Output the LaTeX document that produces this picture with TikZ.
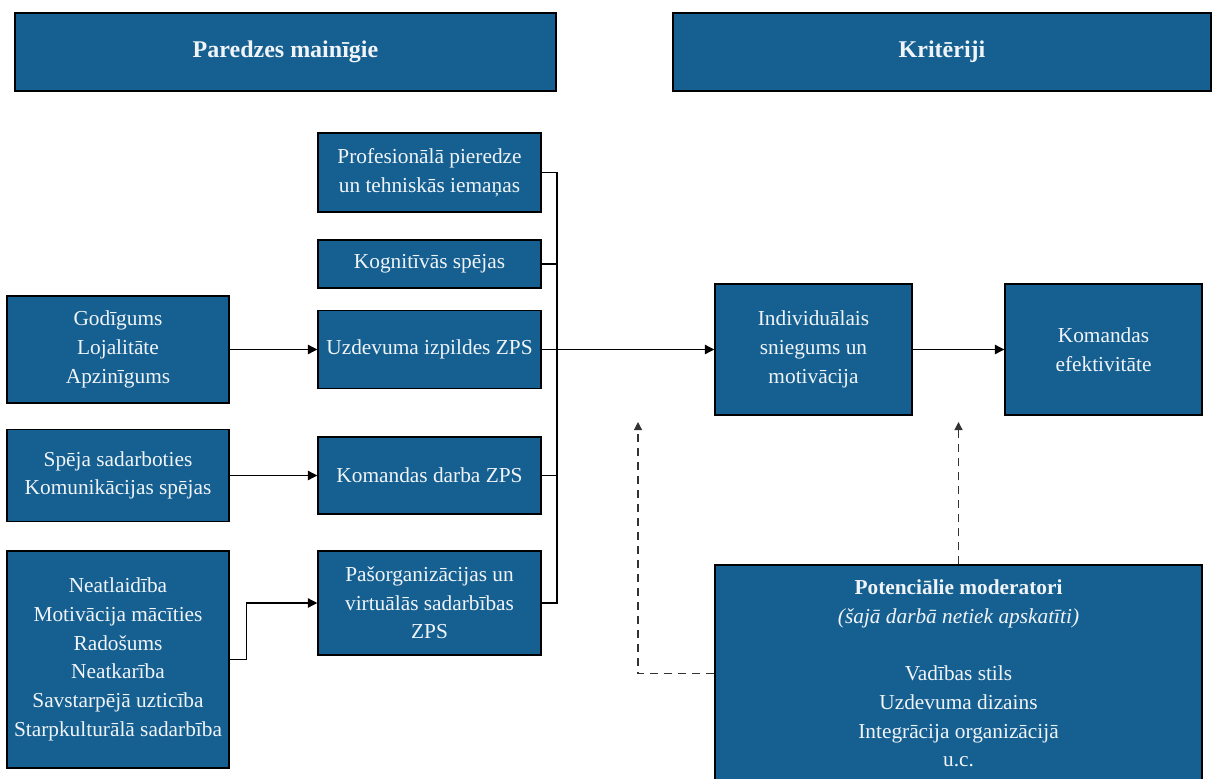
\documentclass[tikz,border=0pt]{standalone}
\usepackage{fontspec}
\setmainfont{Liberation Serif}
\usetikzlibrary{arrows.meta}
\definecolor{ZBlue}{RGB}{22,96,145}
\definecolor{ZText}{RGB}{240,244,248}
\newdimen\px \px=0.75pt

\begin{document}
\begin{tikzpicture}[x=0.75pt, y=-0.75pt,
    zbox/.style={rectangle, fill=ZBlue, draw=black, line width=1.1pt,
                 align=center, text=ZText, inner sep=2pt,
                 font=\fontsize{16}{21.5}\selectfont},
    hbox/.style={zbox, font=\fontsize{18}{22}\selectfont\bfseries},
    arr/.style={-{Triangle[length=7pt, width=7pt]}, draw=black, line width=0.9pt},
    darr/.style={-{Triangle[length=6pt, width=6pt]}, draw=black!80,
                 line width=0.9pt, dash pattern=on 6pt off 4.5pt},
    lnk/.style={draw=black, line width=0.9pt}
  ]
  \useasboundingbox (0,0) rectangle (1212,778);

  % Headers
  \node[hbox, minimum width=541\px, minimum height=78\px] (hdrA) at (285.5,52) {Paredzes mainīgie};
  \node[hbox, minimum width=538\px, minimum height=78\px] (hdrB) at (942,52) {Kritēriji};

  % ZPS column
  \node[zbox, minimum width=223\px, minimum height=79\px] (prof) at (429.5,172.5)
        {Profesionālā pieredze\\un tehniskās iemaņas};
  \node[zbox, minimum width=223\px, minimum height=48\px] (kogn) at (429.5,264) {Kognitīvās spējas};
  \node[zbox, minimum width=223\px, minimum height=78\px] (uzd) at (429.5,349.5) {Uzdevuma izpildes ZPS};
  \node[zbox, minimum width=223\px, minimum height=77\px] (kdarb) at (429.5,475.5) {Komandas darba ZPS};
  \node[zbox, minimum width=223\px, minimum height=104\px] (pasorg) at (429.5,603)
        {Pašorganizācijas un\\virtuālās sadarbības\\ZPS};

  % Traits
  \node[zbox, minimum width=222\px, minimum height=107\px] (godig) at (118,349.5)
        {Godīgums\\Lojalitāte\\Apzinīgums};
  \node[zbox, minimum width=222\px, minimum height=92\px] (speja) at (118,475.5)
        {Spēja sadarboties\\Komunikācijas spējas};
  \node[zbox, minimum width=222\px, minimum height=217\px] (neatl) at (118,659.5)
        {Neatlaidība\\Motivācija mācīties\\Radošums\\Neatkarība\\Savstarpējā uzticība\\Starpkulturālā sadarbība};

  % Criteria
  \node[zbox, minimum width=197\px, minimum height=131\px] (indiv) at (813.5,349.5)
        {Individuālais\\sniegums un\\motivācija};
  \node[zbox, minimum width=197\px, minimum height=131\px] (kefekt) at (1103.5,349.5)
        {Komandas\\efektivitāte};

  % Moderators
  \node[zbox, minimum width=487\px, minimum height=217\px] (moder) at (958.5,673.5)
        {\textbf{Potenciālie moderatori}\\\textit{(šajā darbā netiek apskatīti)}\\[21.5pt]
         Vadības stils\\Uzdevuma dizains\\Integrācija organizācijā\\u.c.};

  % Bus
  \coordinate (bustop) at (557,172.5);
  \coordinate (busbot) at (557,603);
  \draw[lnk] (prof.east) -- (bustop) -- (busbot) -- (pasorg.east);
  \draw[lnk] (kogn.east) -- (kogn.east -| bustop);
  \draw[lnk] (kdarb.east) -- (kdarb.east -| bustop);
  \draw[arr] (uzd.east) -- (indiv.west);
  \draw[arr] (indiv.east) -- (kefekt.west);

  % Traits to ZPS
  \draw[arr] (godig.east) -- (uzd.west);
  \draw[arr] (speja.east) -- (kdarb.west);
  \draw[arr] (neatl.east) -- ++(17,0) |- (pasorg.west);

  % Moderator links
  \coordinate (dashL) at (638,422);
  \coordinate (dashR) at (958.5,422);
  \draw[darr] (moder.west) -| (dashL);
  \draw[darr] (moder.north) -- (dashR);
\end{tikzpicture}
\end{document}
